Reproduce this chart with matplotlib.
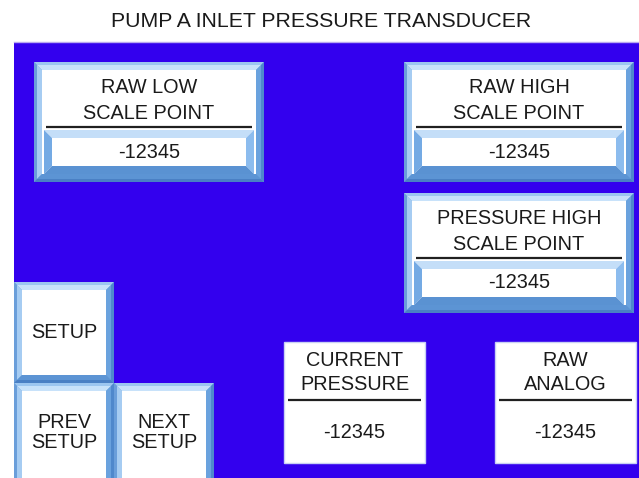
import matplotlib.pyplot as plt
from matplotlib.patches import Rectangle, Polygon

# screen texts
title = "PUMP A INLET PRESSURE TRANSDUCER"
panel_labels = [["RAW LOW", "SCALE POINT"],
                ["RAW HIGH", "SCALE POINT"],
                ["PRESSURE HIGH", "SCALE POINT"]]
panel_values = ["-12345", "-12345", "-12345"]
button_labels = [["SETUP"], ["PREV", "SETUP"], ["NEXT", "SETUP"]]
readout_labels = [["CURRENT", "PRESSURE"], ["RAW", "ANALOG"]]
readout_values = ["-12345", "-12345"]

W, H = 639, 478
BLUE = '#3300EE'
TXT = '#1a1a1a'
FS = 14.3

plt.rcParams['font.family'] = ['Liberation Sans', 'DejaVu Sans']


def bevel(ax, x0, y0, x1, y1, w, top, left, right, bottom):
    # y axis grows downwards
    ax.add_patch(Polygon([(x0, y0), (x1, y0), (x1 - w, y0 + w), (x0 + w, y0 + w)], fc=top, ec='none'))
    ax.add_patch(Polygon([(x0, y0), (x0 + w, y0 + w), (x0 + w, y1 - w), (x0, y1)], fc=left, ec='none'))
    ax.add_patch(Polygon([(x1, y0), (x1, y1), (x1 - w, y1 - w), (x1 - w, y0 + w)], fc=right, ec='none'))
    ax.add_patch(Polygon([(x0, y1), (x1, y1), (x1 - w, y1 - w), (x0 + w, y1 - w)], fc=bottom, ec='none'))


def frame(ax, x0, y0, x1, y1):
    ax.add_patch(Rectangle((x0, y0), x1 - x0, y1 - y0, fc='#6FA6E0', ec='none'))
    bevel(ax, x0, y0, x1, y1, 3, '#9CC6F0', '#6A9EDA', '#4F88CC', '#4A80C4')
    bevel(ax, x0 + 3, y0 + 3, x1 - 3, y1 - 3, 5, '#C8E2FA', '#A6CCF2', '#6AA2DE', '#5C94D4')
    ax.add_patch(Rectangle((x0 + 8, y0 + 8), x1 - x0 - 16, y1 - y0 - 16, fc='white', ec='none'))


def inset(ax, x0, y0, x1, y1):
    bevel(ax, x0, y0, x1, y1, 8, '#C4DEF8', '#74AAE4', '#8CBCEE', '#5A92D2')
    ax.add_patch(Rectangle((x0 + 8, y0 + 8), x1 - x0 - 16, y1 - y0 - 16, fc='white', ec='none'))


def lines(ax, x, ys, texts):
    for y, t in zip(ys, texts):
        ax.text(x, y, t, ha='center', va='center', fontsize=FS, color=TXT)


fig = plt.figure(figsize=(W / 100, H / 100), dpi=100)
ax = fig.add_axes([0, 0, 1, 1])
ax.set_xlim(0, W)
ax.set_ylim(H, 0)
ax.axis('off')

ax.text(321, 21, title, ha='center', va='center', fontsize=15.3, color=TXT)

ax.add_patch(Rectangle((14, 42), W - 14, H - 42, fc=BLUE, ec='none'))
ax.plot([14, W], [42, 42], color='#B8A8F0', lw=1)

# scale point panels
for (px, py), lab, val in zip([(34, 62), (404, 62), (404, 193)], panel_labels, panel_values):
    frame(ax, px, py, px + 230, py + 120)
    inset(ax, px + 10, py + 68, px + 220, py + 112)
    ax.plot([px + 12, px + 218], [py + 65, py + 65], color='#202020', lw=1.6, solid_capstyle='butt')
    cx = px + 115
    lines(ax, cx, [py + 25, py + 51], lab)
    lines(ax, cx, [py + 90], [val])

# setup buttons
for (bx, by, bw, bh), lab in zip([(14, 282, 100, 101), (14, 383, 100, 95), (114, 383, 100, 95)], button_labels):
    frame(ax, bx, by, bx + bw, by + bh + (8 if by > 380 else 0))
    cx = bx + bw / 2
    if len(lab) == 1:
        lines(ax, cx, [by + 50], lab)
    else:
        lines(ax, cx, [by + 39, by + 60], lab)

# live readouts
for rx, lab, val in zip([284, 495], readout_labels, readout_values):
    ax.add_patch(Rectangle((rx, 342), 141, 121, fc='white', ec='#C8D0F4', lw=1))
    ax.plot([rx + 4, rx + 137], [400, 400], color='#202020', lw=1.6, solid_capstyle='butt')
    cx = rx + 70.5
    lines(ax, cx, [360, 385], lab)
    lines(ax, cx, [432], [val])

fig.savefig('out.png', dpi=100)
